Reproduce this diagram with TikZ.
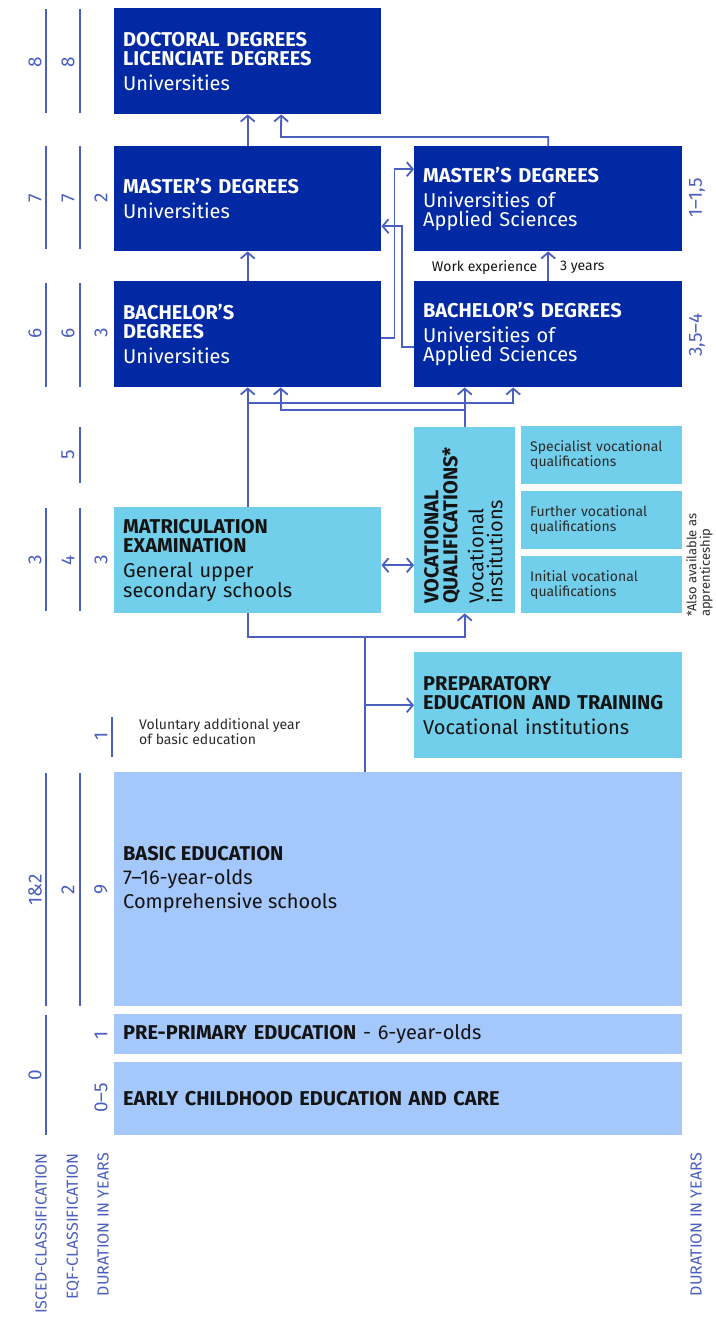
\documentclass[tikz,border=0pt]{standalone}
\usepackage{fontspec}
\setmainfont{Fira Sans}
\usetikzlibrary{arrows.meta}
\definecolor{dblue}{HTML}{0029A3}
\definecolor{cbox}{HTML}{72CFEB}
\definecolor{lbox}{HTML}{A4C7FC}
\definecolor{lnblue}{HTML}{4A5FC1}
\definecolor{txtdark}{HTML}{141414}
\definecolor{txtgray}{HTML}{2B2B2B}
\tikzset{
  box/.style={rectangle, draw=none, anchor=north west, inner xsep=9pt, inner ysep=0pt, align=left, font=\fontsize{20}{19}\selectfont},
  darkbox/.style={box, fill=dblue, text=white},
  cyanbox/.style={box, fill=cbox, text=txtdark},
  lightbox/.style={box, fill=lbox, text=txtdark},
  smallbox/.style={box, fill=cbox, text=txtgray, font=\fontsize{14}{15}\selectfont, text width=143pt, minimum height=58pt},
  conn/.style={draw=lnblue, line width=1.8pt},
  arr/.style={conn, -{Straight Barb[length=6pt,width=14pt]}},
  darr/.style={conn, {Straight Barb[length=6pt,width=14pt]}-{Straight Barb[length=6pt,width=14pt]}},
  bar/.style={draw=lnblue, line width=2pt},
  num/.style={rotate=90, text=lnblue, font=\fontsize{19}{19}\selectfont, inner sep=0pt},
  axislbl/.style={rotate=90, anchor=east, text=lnblue, font=\fontsize{16}{16}\selectfont, inner sep=0pt},
  note/.style={text=txtgray, font=\fontsize{14}{15}\selectfont, inner sep=0pt, align=left},
}
\begin{document}
\begin{tikzpicture}[x=1pt,y=-1pt]
\useasboundingbox (0,0) rectangle (715,1317);
% ---------- boxes ----------
\node[darkbox, minimum height=106pt, text width=249pt] (doc) at (114,8)
  {\textbf{DOCTORAL DEGREES}\\\textbf{LICENCIATE DEGREES}\\[6pt]Universities};
\node[darkbox, minimum height=105pt, text width=249pt] (mU) at (114,146)
  {\textbf{MASTER’S DEGREES}\\[6pt]Universities};
\node[darkbox, minimum height=106pt, text width=249pt] (bU) at (114,281)
  {\textbf{BACHELOR’S}\\\textbf{DEGREES}\\[6pt]Universities};
\node[darkbox, minimum height=105pt, text width=250pt] (mA) at (414,146)
  {\textbf{MASTER’S DEGREES}\\[6pt]Universities of\\Applied Sciences};
\node[darkbox, minimum height=106pt, text width=250pt] (bA) at (414,281)
  {\textbf{BACHELOR’S DEGREES}\\[6pt]Universities of\\Applied Sciences};
\node[cyanbox, minimum height=106pt, text width=249pt] (matric) at (114,507)
  {\textbf{MATRICULATION}\\\textbf{EXAMINATION}\\[6pt]General upper\\secondary schools};
\node[cyanbox, minimum width=101pt, minimum height=186pt] (voc) at (414,427) {};
\node[rotate=90, anchor=north west, inner sep=0pt, align=left, text=txtdark,
      font=\fontsize{20}{19}\selectfont] (vocT) at (424,604)
  {\textbf{VOCATIONAL}\\\textbf{QUALIFICATIONS*}\\[7pt]Vocational\\institutions};
\node[smallbox] (spec) at (521,426) {Specialist vocational\\qualifications};
\node[smallbox] (furt) at (521,491) {Further vocational\\qualifications};
\node[smallbox, minimum height=57pt] (init) at (521,556) {Initial vocational\\qualifications};
\node[cyanbox, minimum height=106pt, text width=250pt] (prep) at (414,652)
  {\textbf{PREPARATORY}\\\textbf{EDUCATION AND TRAINING}\\[6pt]Vocational institutions};
\node[lightbox, minimum height=234pt, text width=550pt] (basic) at (114,772) {};
\node[anchor=north west, inner sep=0pt, align=left, text=txtdark,
      font=\fontsize{20}{24}\selectfont] (basicT) at (123,846)
  {\textbf{BASIC EDUCATION}\\7–16-year-olds\\Comprehensive schools};
\node[lightbox, minimum height=40pt, text width=550pt] (pre) at (114,1014)
  {\textbf{PRE-PRIMARY EDUCATION} - 6-year-olds};
\node[lightbox, minimum height=73pt, text width=550pt] (early) at (114,1062)
  {\textbf{EARLY CHILDHOOD EDUCATION AND CARE}};
% ---------- connectors ----------
\draw[arr] (mU.north) -- (doc.south);
\draw[arr] (bU.north) -- (mU.south);
\coordinate (k1) at (281,137);
\draw[arr] (mA.north) |- (k1) -- ([xshift=33.5pt]doc.south);
\draw[arr] ([yshift=-4pt]bU.east) -- ++(13,0) |- ([yshift=29.5pt]mA.west);
\draw[arr] ([yshift=-13pt]bA.west) -- ++(-12,0) |- ([yshift=-27.5pt]mU.east);
\draw[arr] (bA.north) -- (mA.south)
  node[midway, anchor=east, xshift=-10pt, yshift=-1pt, inner sep=0pt, text=txtdark, font=\fontsize{14}{14}\selectfont] (we1) {Work experience}
  node[midway, anchor=west, xshift=11pt, yshift=-1pt, inner sep=0pt, text=txtdark, font=\fontsize{14}{14}\selectfont] (we2) {3 years};
\coordinate (j1) at (247.5,403);
\draw[arr] (matric.north) -- (bU.south);
\draw[arr] (j1) -| ([xshift=-35pt]bA.south);
\coordinate (j2) at (464.5,410);
\draw[arr] (voc.north) -- (voc.north |- bA.south);
\draw[arr] (j2) -| ([xshift=33pt]bU.south);
\draw[darr] ([yshift=-5pt]matric.east) -- ([yshift=-5pt]matric.east -| voc.west);
\coordinate (j3) at (365,637);
\draw[arr] (matric.south) |- (j3) -| (voc.south);
\draw[conn] (basic.north -| j3) -- (j3);
\draw[arr] (j3 |- prep.west) -- (prep.west);
% ---------- scale bars ----------
\draw[bar] (46,9) -- (46,113);   \draw[bar] (80,9) -- (80,113);
\draw[bar] (46,146) -- (46,249); \draw[bar] (80,146) -- (80,249);
\draw[bar] (46,283) -- (46,387); \draw[bar] (80,283) -- (80,387);
\draw[bar] (80,427) -- (80,483);
\draw[bar] (46,508) -- (46,611); \draw[bar] (80,508) -- (80,611);
\draw[bar] (112,717) -- (112,757);
\draw[bar] (46,773) -- (46,1006); \draw[bar] (80,773) -- (80,1006);
\draw[bar] (46,1015) -- (46,1135);
% ---------- scale numbers ----------
\node[num] (i8) at (35,62) {8};   \node[num] (e8) at (68,62) {8};
\node[num] (i7) at (35,198) {7};  \node[num] (e7) at (68,198) {7};  \node[num] (d7) at (101,198) {2};
\node[num] (i6) at (35,333) {6};  \node[num] (e6) at (68,333) {6};  \node[num] (d6) at (101,333) {3};
\node[num] (e5) at (68,455) {5};
\node[num] (i3) at (35,560) {3};  \node[num] (e4) at (68,560) {4};  \node[num] (d3) at (101,560) {3};
\node[num] (dv) at (101,736) {1};
\node[num] (i12) at (35,890) {1\&2}; \node[num] (e2) at (68,890) {2}; \node[num] (d9) at (101,890) {9};
\node[num] (dp) at (101,1035) {1};
\node[num] (i0) at (35,1075) {0};
\node[num] (de) at (101,1098) {0–5};
\node[num] (dA) at (697,198) {1–1,5};
\node[num] (dB) at (697,335) {3,5–4};
% ---------- notes ----------
\node[note, anchor=north west] (vol) at (139,718) {Voluntary additional year\\of basic education};
\node[note, rotate=90, anchor=north west, font=\fontsize{13}{13.5}\selectfont] (fn) at (686,617) {*Also available as\\apprenticeship};
% ---------- axis labels ----------
\node[axislbl] (ax1) at (41,1153) {ISCED-CLASSIFICATION};
\node[axislbl] (ax2) at (73,1153) {EQF-CLASSIFICATION};
\node[axislbl] (ax3) at (103,1153) {DURATION IN YEARS};
\node[axislbl] (ax4) at (696,1153) {DURATION IN YEARS};
\end{tikzpicture}
\end{document}
